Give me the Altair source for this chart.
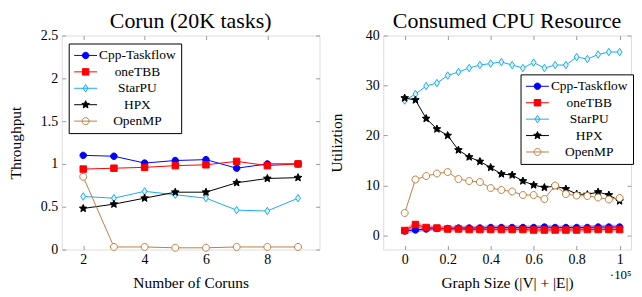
import math
import altair as alt
import pandas as pd

# ---------------- data ----------------
SERIES = ["Cpp-Taskflow", "oneTBB", "StarPU", "HPX", "OpenMP"]
STROKES = ["#0000FF", "#FF0000", "#1EAAF0", "#000000", "#BF8040"]
FILLS = ["#0000FF", "#FF0000", "#D8F3FF", "#000000", "#FFFFFF"]

corun_x = [2, 3, 4, 5, 6, 7, 8, 9]
corun_cpp = [1.10, 1.09, 1.01, 1.04, 1.05, 0.95, 1.00, 1.00]
corun_tbb = [0.94, 0.95, 0.96, 0.98, 0.99, 1.03, 0.98, 1.00]
corun_starpu = [0.62, 0.60, 0.68, 0.64, 0.60, 0.46, 0.45, 0.60]
corun_hpx = [0.48, 0.53, 0.60, 0.67, 0.67, 0.78, 0.83, 0.84]
corun_openmp = [0.85, 0.03, 0.03, 0.02, 0.02, 0.03, 0.03, 0.03]

cpu_x = [0, 0.05, 0.1, 0.15, 0.2, 0.25, 0.3, 0.35, 0.4, 0.45, 0.5,
         0.55, 0.6, 0.65, 0.7, 0.75, 0.8, 0.85, 0.9, 0.95, 1.0]
cpu_cpp = [0.9, 1.1, 1.3, 1.4, 1.4, 1.5, 1.5, 1.5, 1.6, 1.6, 1.6,
           1.6, 1.6, 1.7, 1.6, 1.6, 1.6, 1.6, 1.7, 1.7, 1.7]
cpu_tbb = [1.0, 2.2, 1.6, 1.5, 1.3, 1.3, 1.2, 1.2, 1.2, 1.2, 1.2,
           1.2, 1.1, 1.1, 1.1, 1.1, 1.1, 1.2, 1.2, 1.2, 1.2]
cpu_starpu = [27.0, 28.3, 29.9, 30.5, 32.0, 32.7, 33.5, 34.1, 34.4, 34.7, 34.1,
              33.5, 34.6, 33.5, 34.1, 34.1, 35.7, 35.3, 36.2, 36.7, 36.7]
cpu_hpx = [27.5, 27.1, 23.4, 21.3, 20.0, 17.1, 15.7, 14.8, 13.6, 12.3, 12.1,
           10.9, 10.1, 9.6, 9.9, 9.3, 8.3, 8.2, 8.7, 8.1, 6.9]
cpu_openmp = [4.5, 11.2, 11.9, 12.4, 12.7, 11.3, 10.9, 10.7, 9.5, 9.1, 8.8,
              8.1, 8.1, 7.3, 10.0, 8.3, 8.0, 7.9, 7.6, 7.2, 7.5]

corun_x_ticks = [2, 4, 6, 8]
corun_y_ticks = [0, 0.5, 1, 1.5, 2, 2.5]
cpu_x_ticks = [0, 0.2, 0.4, 0.6, 0.8, 1.0]
cpu_y_ticks = [0, 10, 20, 30, 40]
exp_label = ["·10⁵"]


def long_df(xs, cols):
    rows = []
    for s, ys in zip(SERIES, cols):
        for x, y in zip(xs, ys):
            rows.append({"x": x, "y": y, "series": s})
    return pd.DataFrame(rows)


corun_df = long_df(corun_x, [corun_cpp, corun_tbb, corun_starpu, corun_hpx, corun_openmp])
cpu_df = long_df(cpu_x, [cpu_cpp, cpu_tbb, cpu_starpu, cpu_hpx, cpu_openmp])

# ---------------- marker shapes ----------------
KINDS = ["circle", "square", "diamond", "star", "circle"]
DIAM = [6.5, 6.5, 7.5, 8.0, 7.0]


def f(v):
    s = f"{v:.3f}".rstrip("0").rstrip(".")
    return s if s not in ("", "-0") else "0"


def shape_path(kind, s, cx=0.0):
    if kind == "circle":
        return (f"M{f(cx+s)},0A{f(s)},{f(s)},0,1,1,{f(cx-s)},0"
                f"A{f(s)},{f(s)},0,1,1,{f(cx+s)},0Z")
    if kind == "square":
        return f"M{f(cx-s)},{f(-s)}H{f(cx+s)}V{f(s)}H{f(cx-s)}Z"
    if kind == "diamond":
        return f"M{f(cx)},{f(-s)}L{f(cx+0.65*s)},0L{f(cx)},{f(s)}L{f(cx-0.65*s)},0Z"
    pts = []
    for k in range(10):
        r = s if k % 2 == 0 else 0.45 * s
        a = math.radians(-90 + 36 * k)
        pts.append(f"{f(cx + r*math.cos(a))},{f(r*math.sin(a))}")
    return "M" + "L".join(pts) + "Z"


# legend symbol: 13px box, line drawn over 23px, marker centred on the line
LEG_SIDE = 13.0
LEG_LINE = 23.0
_r = LEG_SIDE / 2
PLOT_PATHS = [shape_path(k, 1) for k in KINDS]
LEG_PATHS = [f"M-1,0H{f((LEG_LINE - _r) / _r)}" +
             shape_path(k, d / 2 / _r, cx=(LEG_LINE / 2 - _r) / _r)
             for k, d in zip(KINDS, DIAM)]

FONT = "Liberation Serif"
INWARD = {"expr": "-4"}


def make_panel(df, title, xdom, ydom, xticks, yticks, xtitle, ytitle,
               w, h, ytitlepad, legx, legy, bands=False, annot=False):
    xs = alt.Scale(domain=xdom, nice=False, zero=False)
    ys = alt.Scale(domain=ydom, nice=False, zero=False)
    ax_bottom = alt.Axis(orient="bottom", values=xticks, format="~r", grid=False, domain=False,
                         tickColor="#999999", tickWidth=1, tickSize=INWARD, labelPadding=7,
                         labelFont=FONT, labelFontSize=14, labelColor="black",
                         title=xtitle, titleFont=FONT, titleFontSize=15.5,
                         titleFontWeight="normal", titleColor="black", titlePadding=9)
    ax_left = alt.Axis(orient="left", values=yticks, format="~r", grid=False, domain=False,
                       tickColor="#999999", tickWidth=1, tickSize=INWARD, labelPadding=8,
                       labelFont=FONT, labelFontSize=14, labelColor="black",
                       title=ytitle, titleFont=FONT, titleFontSize=15.5,
                       titleFontWeight="normal", titleColor="black", titlePadding=ytitlepad)
    ax_top = alt.Axis(orient="top", values=xticks, grid=False, domain=False, labels=False,
                      tickColor="#999999", tickWidth=1, tickSize=INWARD, title=None,
                      labelPadding=0, minExtent=0, maxExtent=0)
    ax_right = alt.Axis(orient="right", values=yticks, grid=False, domain=False, labels=False,
                        tickColor="#999999", tickWidth=1, tickSize=INWARD, title=None,
                        labelPadding=0, minExtent=0, maxExtent=0)

    base = alt.Chart(df)
    layers = []
    first = True
    for i, s in enumerate(SERIES):
        sub = base.transform_filter(alt.datum.series == s)
        if bands and i < 2:
            layers.append(sub.mark_line(color=STROKES[i], strokeWidth=4.5, opacity=0.3).encode(
                x=alt.X("x:Q", scale=xs, axis=None),
                y=alt.Y("y:Q", scale=ys, axis=None)))
        layers.append(sub.mark_line(color=STROKES[i], strokeWidth=1).encode(
            x=alt.X("x:Q", scale=xs, axis=ax_bottom if first else None),
            y=alt.Y("y:Q", scale=ys, axis=ax_left if first else None)))
        first = False
        layers.append(sub.mark_point(shape=PLOT_PATHS[i], size=DIAM[i] ** 2, fill=FILLS[i],
                                     stroke=STROKES[i], strokeWidth=1, opacity=1,
                                     fillOpacity=1).encode(
            x=alt.X("x:Q", scale=xs, axis=None),
            y=alt.Y("y:Q", scale=ys, axis=None)))

    leg = alt.Legend(orient="none", legendX=legx, legendY=legy, title=None,
                     strokeColor="black", fillColor="white", padding=5, cornerRadius=0,
                     labelFont=FONT, labelFontSize=13.5, labelColor="black",
                     labelAlign="center", labelOffset=50, symbolSize=LEG_SIDE ** 2,
                     symbolStrokeWidth=1, rowPadding=2.5)
    layers.append(base.transform_filter("false").mark_point(opacity=1, strokeWidth=1).encode(
        x=alt.X("x:Q", scale=xs, axis=ax_top),
        y=alt.Y("y:Q", scale=ys, axis=ax_right),
        shape=alt.Shape("series:N", scale=alt.Scale(domain=SERIES, range=LEG_PATHS), legend=leg),
        fill=alt.Fill("series:N", scale=alt.Scale(domain=SERIES, range=FILLS), legend=leg),
        stroke=alt.Stroke("series:N", scale=alt.Scale(domain=SERIES, range=STROKES), legend=leg),
    ))
    if annot:
        adf = pd.DataFrame({"x": [xticks[-1]], "t": exp_label})
        layers.append(alt.Chart(adf).mark_text(font=FONT, fontSize=13, align="right",
                                                baseline="alphabetic", dx=12, color="black").encode(
            x=alt.X("x:Q", scale=xs, axis=None),
            y=alt.value(h + 30),
            text="t:N"))

    return alt.layer(*layers).resolve_axis(x="independent", y="independent").properties(
        width=w, height=h,
        title=alt.TitleParams(title, font=FONT, fontSize=22, fontWeight="normal",
                              anchor="middle", frame="group", offset=-4, color="black"))


left = make_panel(corun_df, "Corun (20K tasks)", [1.3, 9.7], [0, 2.5],
                  corun_x_ticks, corun_y_ticks, "Number of Coruns", "Throughput",
                  259, 215, 17, 7, 8)
right = make_panel(cpu_df, "Consumed CPU Resource", [-0.1, 1.053], [-2.8, 40],
                   cpu_x_ticks, cpu_y_ticks, "Graph Size (|V| + |E|)", "Utiliztion",
                   249, 215, 21, 138, 39, bands=True, annot=True)

chart = (alt.hconcat(left, right, spacing=8)
         .resolve_scale(shape="independent", fill="independent", stroke="independent")
         .resolve_legend(shape="independent", fill="independent", stroke="independent")
         .properties(padding=0)
         .configure_view(stroke="#333333", strokeWidth=1)
         .configure(font=FONT))

chart.save("out.html", embed_options={"renderer": "svg", "actions": False})
